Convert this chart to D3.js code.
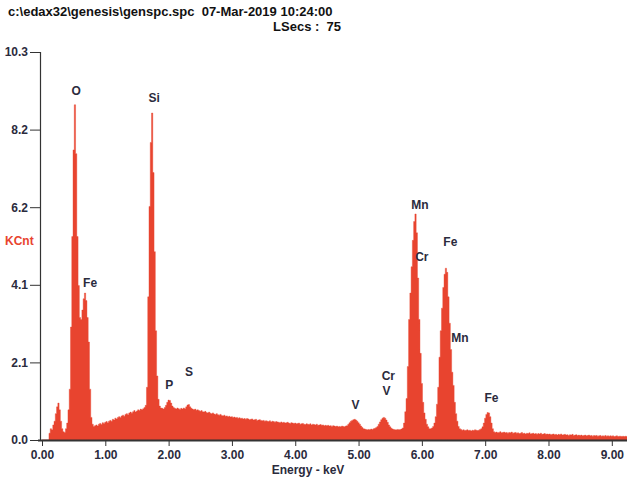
<!DOCTYPE html>
<html lang="en">
<head>
<meta charset="utf-8">
<title>EDAX spectrum</title>
<script src="https://d3js.org/d3.v7.min.js"></script>
<style>
  body { margin: 0; background: #fff; }
  svg text { font-family: "Liberation Sans", Arial, sans-serif; font-weight: bold; white-space: pre; }
</style>
</head>
<body>
<div id="chart"></div>
<script>
// spectrum: one value (KCnt) per 0.02 keV channel, starting at 0 keV
var keVPerChannel = 0.02;
var counts = [
  0, 0, 0, 0, 0, 0, 0.18, 0.3, 0.27, 0.4, 0.5, 0.7, 0.88, 0.98, 0.8, 0.5, 0.3, 0.22, 0.2, 0.3, 0.45, 0.8, 1.35, 3.0, 5.4,
  7.7, 8.9, 7.6, 5.4, 4.1, 3.25, 3.2, 3.45, 3.75, 3.9, 3.7, 3.25, 2.6, 1.35, 0.6, 0.42, 0.36, 0.38, 0.4, 0.37, 0.42, 0.44, 0.41, 0.46, 0.44,
  0.47, 0.49, 0.46, 0.5, 0.52, 0.5, 0.55, 0.53, 0.58, 0.56, 0.6, 0.62, 0.6, 0.64, 0.66, 0.63, 0.68, 0.7, 0.67, 0.72, 0.74, 0.71, 0.75, 0.78, 0.74,
  0.77, 0.8, 0.78, 0.82, 0.8, 0.83, 0.86, 0.92, 1.4, 3.8, 6.2, 7.9, 8.68, 7.1, 5.0, 2.9, 1.7, 1.08, 0.9, 0.85, 0.84, 0.82, 0.86, 0.92, 1.0,
  1.06, 1.05, 0.98, 0.9, 0.86, 0.84, 0.82, 0.85, 0.83, 0.81, 0.84, 0.82, 0.85, 0.83, 0.88, 0.93, 0.94, 0.88, 0.84, 0.82, 0.8, 0.82, 0.79, 0.8, 0.78,
  0.76, 0.78, 0.75, 0.74, 0.76, 0.73, 0.72, 0.74, 0.71, 0.7, 0.72, 0.69, 0.68, 0.7, 0.67, 0.66, 0.68, 0.65, 0.64, 0.66, 0.63, 0.64, 0.62, 0.63, 0.61,
  0.62, 0.6, 0.61, 0.59, 0.6, 0.58, 0.59, 0.57, 0.58, 0.56, 0.57, 0.55, 0.57, 0.56, 0.54, 0.55, 0.56, 0.53, 0.54, 0.55, 0.52, 0.53, 0.54, 0.52, 0.51,
  0.52, 0.5, 0.51, 0.5, 0.49, 0.51, 0.48, 0.5, 0.49, 0.47, 0.49, 0.48, 0.47, 0.46, 0.48, 0.46, 0.47, 0.45, 0.46, 0.47, 0.45, 0.44, 0.46, 0.45, 0.44,
  0.45, 0.43, 0.44, 0.45, 0.42, 0.43, 0.44, 0.42, 0.41, 0.43, 0.42, 0.41, 0.43, 0.4, 0.42, 0.41, 0.4, 0.42, 0.39, 0.4, 0.41, 0.39, 0.4, 0.38, 0.39,
  0.38, 0.39, 0.37, 0.38, 0.36, 0.38, 0.37, 0.36, 0.37, 0.35, 0.36, 0.35, 0.37, 0.36, 0.35, 0.37, 0.38, 0.42, 0.46, 0.5, 0.52, 0.54, 0.55, 0.53, 0.5,
  0.46, 0.42, 0.37, 0.33, 0.3, 0.29, 0.28, 0.27, 0.28, 0.27, 0.29, 0.28, 0.3, 0.31, 0.33, 0.36, 0.42, 0.48, 0.54, 0.58, 0.6, 0.58, 0.53, 0.47, 0.4,
  0.35, 0.31, 0.29, 0.28, 0.27, 0.27, 0.28, 0.27, 0.28, 0.29, 0.32, 0.45, 0.75, 1.1, 1.95, 3.2, 3.9, 4.6, 5.3, 5.8, 6.0, 5.5, 4.3, 3.2, 2.3,
  1.5, 1.0, 0.72, 0.55, 0.42, 0.35, 0.3, 0.3, 0.32, 0.36, 0.45, 0.62, 0.95, 1.4, 2.2, 2.9, 3.5, 4.05, 4.4, 4.56, 4.45, 3.8, 3.1, 2.4, 1.8,
  1.45, 1.0, 0.7, 0.5, 0.36, 0.3, 0.28, 0.26, 0.27, 0.25, 0.26, 0.27, 0.25, 0.26, 0.24, 0.26, 0.25, 0.27, 0.26, 0.25, 0.26, 0.28, 0.3, 0.35, 0.45,
  0.58, 0.68, 0.73, 0.72, 0.62, 0.45, 0.3, 0.22, 0.2, 0.21, 0.19, 0.2, 0.22, 0.19, 0.2, 0.21, 0.19, 0.2, 0.18, 0.2, 0.19, 0.21, 0.18, 0.19, 0.2,
  0.18, 0.19, 0.17, 0.18, 0.2, 0.17, 0.18, 0.16, 0.18, 0.17, 0.19, 0.16, 0.17, 0.18, 0.16, 0.17, 0.15, 0.17, 0.16, 0.18, 0.15, 0.16, 0.17, 0.15, 0.16,
  0.15, 0.16, 0.14, 0.15, 0.16, 0.14, 0.15, 0.13, 0.15, 0.14, 0.16, 0.13, 0.14, 0.15, 0.13, 0.14, 0.12, 0.14, 0.13, 0.15, 0.12, 0.13, 0.14, 0.12, 0.13,
  0.12, 0.13, 0.11, 0.12, 0.13, 0.11, 0.12, 0.13, 0.11, 0.12, 0.1, 0.12, 0.11, 0.12, 0.1, 0.11, 0.12, 0.1, 0.11, 0.1, 0.12, 0.1, 0.11, 0.1, 0.11,
  0.1, 0.11, 0.09, 0.1, 0.11, 0.09, 0.1, 0.1, 0.09, 0.1, 0.09, 0.1, 0.09
];

// peak labels: element, energy (keV) and height (KCnt) of the label baseline
var peakNames   = ["O", "Fe", "Si", "P", "S", "V", "Cr", "V", "Mn", "Cr", "Fe", "Mn", "Fe"];
var peakEnergy  = [0.54, 0.76, 1.77, 2.01, 2.32, 4.95, 5.47, 5.44, 5.97, 6.0, 6.45, 6.6, 7.1];
var peakHeight  = [9.15, 4.05, 8.97, 1.35, 1.7, 0.82, 1.58, 1.2, 6.12, 4.76, 5.15, 2.6, 1.0];

var xTicks = [0, 1, 2, 3, 4, 5, 6, 7, 8, 9];
var yTicks = [0, 2.06, 4.12, 6.18, 8.24, 10.3];

var header1 = "c:\\edax32\\genesis\\genspc.spc  07-Mar-2019 10:24:00";
var header2 = "LSecs :  75";

var W = 627, H = 480;
var fill = "#e8442f";
var ink = "#2b2b3d";

var svg = d3.select("#chart").append("svg")
    .attr("width", W)
    .attr("height", H);

var x = d3.scaleLinear().domain([0, 9.24]).range([42, 627]);
var y = d3.scaleLinear().domain([0, 10.3]).range([440, 52]);

// spectrum
var area = d3.area()
    .curve(d3.curveStep)
    .x(function(d, i) { return x(i * keVPerChannel); })
    .y0(y(0))
    .y1(function(d) { return y(d); });

svg.append("path")
    .datum(counts)
    .attr("d", area)
    .attr("fill", fill)
    .attr("stroke", fill)
    .attr("stroke-width", 0.4);

// axes
var yAxis = d3.axisLeft(y).tickValues(yTicks).tickFormat(d3.format(".1f")).tickSize(10).tickPadding(2);
var gy = svg.append("g").attr("transform", "translate(40,0)").call(yAxis);
gy.select(".domain").attr("stroke", "#333").attr("stroke-width", 1.2).attr("d", "M0.5," + y(10.3) + "V" + y(0));
gy.selectAll(".tick line").attr("stroke", "#333");
gy.selectAll(".tick text").attr("fill", ink).style("font-size", "12px").style("font-weight", "bold");

var xAxis = d3.axisBottom(x).tickValues(xTicks).tickFormat(d3.format(".2f")).tickSize(6).tickPadding(4);
var gx = svg.append("g").attr("transform", "translate(0,440)").call(xAxis);
gx.select(".domain").attr("stroke", "#333").attr("stroke-width", 2).attr("d", "M38,0.5H627");
gx.selectAll(".tick line").attr("stroke", "#333");
gx.selectAll(".tick text").attr("fill", ink).style("font-size", "12px").style("font-weight", "bold");

svg.append("text")
    .attr("x", 308).attr("y", 474)
    .attr("text-anchor", "middle")
    .attr("fill", ink)
    .style("font-size", "12px")
    .text("Energy - keV");

svg.append("text")
    .attr("x", 5).attr("y", 245)
    .attr("fill", fill)
    .style("font-size", "12px")
    .text("KCnt");

// header
svg.append("text")
    .attr("x", 8).attr("y", 16)
    .attr("fill", "#111")
    .style("font-size", "13px")
    .text(header1);
svg.append("text")
    .attr("x", 341).attr("y", 31)
    .attr("text-anchor", "end")
    .attr("fill", "#111")
    .style("font-size", "13px")
    .text(header2);

// peak labels
svg.append("g").selectAll("text")
    .data(peakNames)
    .join("text")
    .attr("x", function(d, i) { return x(peakEnergy[i]); })
    .attr("y", function(d, i) { return y(peakHeight[i]); })
    .attr("text-anchor", "middle")
    .attr("fill", ink)
    .style("font-size", "12px")
    .text(function(d) { return d; });
</script>
</body>
</html>
